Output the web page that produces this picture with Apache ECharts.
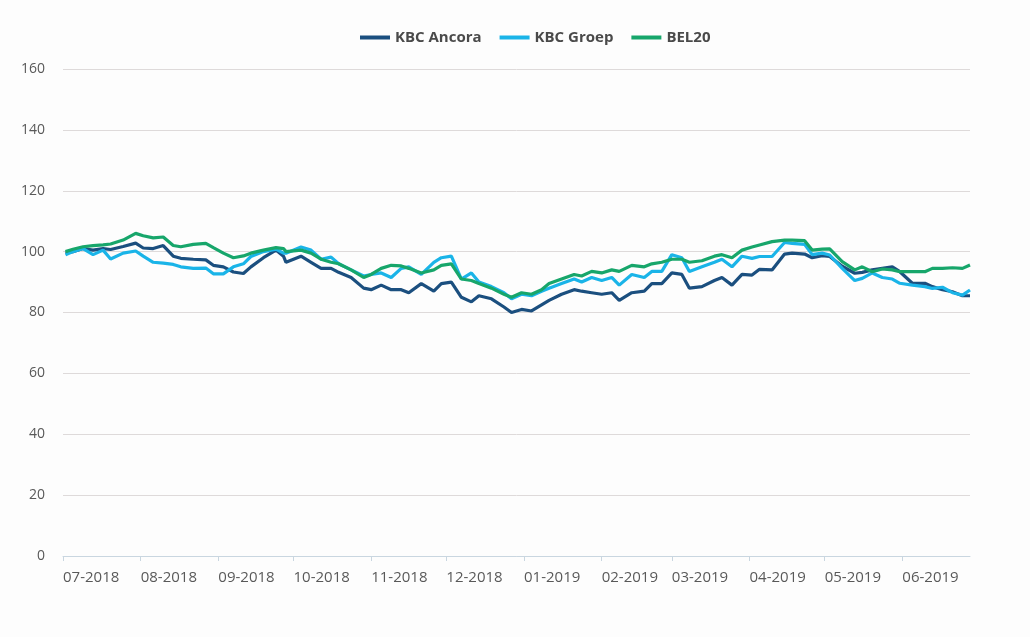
<!DOCTYPE html>
<html>
<head>
<meta charset="utf-8">
<script src="https://cdn.jsdelivr.net/npm/echarts@6/dist/echarts.min.js"></script>
<style>
html,body{margin:0;padding:0;background:#fdfdfd;}
#chart{width:1030px;height:637px;}
</style>
</head>
<body>
<div id="chart"></div>
<script>
const dates = [
 '2018-07-02','2018-07-05','2018-07-09','2018-07-13','2018-07-17','2018-07-20','2018-07-25','2018-07-30',
 '2018-08-02','2018-08-06','2018-08-10','2018-08-14','2018-08-17','2018-08-22','2018-08-27','2018-08-30',
 '2018-09-03','2018-09-07','2018-09-11','2018-09-14','2018-09-19','2018-09-24','2018-09-27','2018-09-28',
 '2018-10-04','2018-10-08','2018-10-12','2018-10-16','2018-10-19','2018-10-24','2018-10-29',
 '2018-11-01','2018-11-05','2018-11-09','2018-11-13','2018-11-16','2018-11-21','2018-11-26','2018-11-29',
 '2018-12-03','2018-12-07','2018-12-11','2018-12-14','2018-12-19','2018-12-24','2018-12-27','2018-12-31',
 '2019-01-04','2019-01-08','2019-01-11','2019-01-16','2019-01-21','2019-01-24','2019-01-28',
 '2019-02-01','2019-02-05','2019-02-08','2019-02-13','2019-02-18','2019-02-21','2019-02-25',
 '2019-03-01','2019-03-05','2019-03-08','2019-03-13','2019-03-18','2019-03-21','2019-03-25','2019-03-29',
 '2019-04-02','2019-04-05','2019-04-10','2019-04-15','2019-04-18','2019-04-23','2019-04-26','2019-04-30',
 '2019-05-03','2019-05-08','2019-05-13','2019-05-16','2019-05-20','2019-05-24','2019-05-28','2019-05-31',
 '2019-06-05','2019-06-10','2019-06-13','2019-06-17','2019-06-21','2019-06-25','2019-06-28'
];
const kbcAncora = [
 99.5,100,101,100.5,101,100.7,101.7,102.8,
 101.2,101,102,98.5,97.8,97.5,97.3,95.5,
 95,93.3,92.8,95,98,100.5,98.5,96.5,
 98.5,96.5,94.5,94.5,93.2,91.5,88,
 87.5,89,87.5,87.5,86.5,89.5,87,89.5,
 90,85,83.5,85.5,84.5,81.8,80,81,
 80.5,82.5,84,86,87.5,87,86.5,
 86,86.5,84,86.5,87,89.5,89.5,
 93,92.5,88,88.5,90.5,91.5,89,92.5,
 92.3,94.2,94,99.2,99.5,99.2,98,98.7,
 98.4,95.2,92.9,93.2,94,94.5,95,93.4,
 89.6,89.6,88.5,87.5,86.8,85.5,85.5
];
const kbcGroep = [
 99,100,101,99,100.5,97.6,99.5,100.2,
 98.5,96.5,96.2,95.8,95,94.5,94.6,92.7,
 92.7,95,96,98.4,100,100.8,99.5,99.5,
 101.5,100.5,97.5,98.2,96,94,92,
 92.5,93,91.5,94.5,95,92.5,96.5,98,
 98.5,91,93,90,88.5,86.5,84.5,86,
 85.5,87,88,89.5,91,90,91.5,
 90.5,91.5,89,92.5,91.5,93.5,93.5,
 99,98,93.5,95,96.5,97.5,95,98.5,
 97.8,98.4,98.4,103,102.7,102.4,99,99.5,
 98.9,94.5,90.5,91.2,93,91.5,91,89.6,
 89,88.5,87.9,88.3,86.5,85.7,87.4
];
const bel20 = [
 100,100.8,101.6,102,102.2,102.5,103.8,106,
 105.2,104.5,104.8,102,101.6,102.4,102.7,101.3,
 99.5,98,98.6,99.5,100.5,101.3,101,100,
 100.5,99.5,97.5,96.5,96,94,91.5,
 92.5,94.5,95.5,95.3,94.5,93,94,95.5,
 96,91,90.5,89.5,88,86,85,86.5,
 86,87.5,89.5,91,92.5,92,93.5,
 93,94,93.5,95.5,95,96,96.5,
 97.5,97.5,96.5,97,98.5,99,98,100.5,
 101.5,102.2,103.3,103.8,103.8,103.6,100.5,100.8,
 100.9,96.7,94,95,93.4,94.3,94,93.4,
 93.4,93.4,94.5,94.5,94.7,94.5,95.6
];
const monthTicks = ['2018-07-01','2018-08-01','2018-09-01','2018-10-01','2018-11-01','2018-12-01',
 '2019-01-01','2019-02-01','2019-03-01','2019-04-01','2019-05-01','2019-06-01'];
const monthLabels = ['07-2018','08-2018','09-2018','10-2018','11-2018','12-2018',
 '01-2019','02-2019','03-2019','04-2019','05-2019','06-2019'];
const seriesNames = ['KBC Ancora','KBC Groep','BEL20'];
const colors = ['#1b4f7f','#1ab4e8','#17a66b'];

const ts = s => new Date(s + 'T00:00:00Z').getTime();
const tickTs = monthTicks.map(ts);
const pair = arr => dates.map((d, i) => [ts(d), arr[i]]);

const chart = echarts.init(document.getElementById('chart'), null, {renderer: 'canvas'});
chart.setOption({
  backgroundColor: '#fdfdfd',
  animation: false,
  color: colors,
  textStyle: {fontFamily: 'Open Sans'},
  legend: {
    top: 25, left: 355,
    itemWidth: 30, itemHeight: 4, itemGap: 18,
    icon: 'rect',
    textStyle: {color: '#4a4a4a', fontSize: 15, fontWeight: 'bold', fontFamily: 'Open Sans'},
    data: seriesNames
  },
  grid: {left: 63, right: 60, top: 69, bottom: 81, containLabel: false},
  xAxis: {
    type: 'value',
    min: ts('2018-07-01'),
    max: ts('2019-06-28'),
    axisLine: {lineStyle: {color: '#c9d6e0', width: 1}},
    axisTick: {show: true, length: 5, lineStyle: {color: '#c9d6e0'}, customValues: tickTs},
    axisLabel: {
      customValues: tickTs,
      align: 'left', margin: 14,
      color: '#595959', fontSize: 15, fontFamily: 'Open Sans',
      formatter: v => { const i = tickTs.indexOf(v); return i >= 0 ? monthLabels[i] : ''; }
    },
    splitLine: {show: false}
  },
  yAxis: {
    type: 'value', min: 0, max: 160, interval: 20,
    axisLine: {show: false}, axisTick: {show: false},
    axisLabel: {color: '#595959', fontSize: 14, margin: 18, fontFamily: 'Open Sans'},
    splitLine: {lineStyle: {color: '#dedada', width: 1}}
  },
  series: [
    {name: seriesNames[0], type: 'line', data: pair(kbcAncora), showSymbol: false, lineStyle: {width: 3.2}, z: 2},
    {name: seriesNames[1], type: 'line', data: pair(kbcGroep), showSymbol: false, lineStyle: {width: 3.2}, z: 3},
    {name: seriesNames[2], type: 'line', data: pair(bel20), showSymbol: false, lineStyle: {width: 3.2}, z: 4}
  ]
});
</script>
</body>
</html>
